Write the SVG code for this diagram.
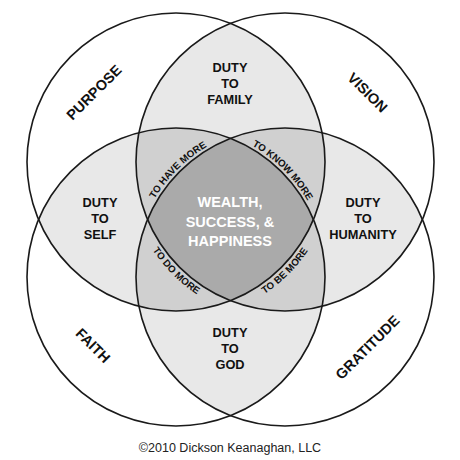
<svg xmlns="http://www.w3.org/2000/svg" width="460" height="460" viewBox="0 0 460 460">
<style>
.ring{fill:none;stroke:#1a1a1a;stroke-width:1.6}
.l2{fill:#e8e8e8}
.l3{fill:#d0d0d0}
.l4{fill:#aaaaaa}
.big{font-family:"Liberation Sans",Arial,sans-serif;font-weight:700;font-size:14.5px;fill:#111;text-anchor:middle}
.duty{font-family:"Liberation Sans",Arial,sans-serif;font-weight:700;font-size:12.8px;fill:#111;text-anchor:middle}
.core{font-family:"Liberation Sans",Arial,sans-serif;font-weight:700;font-size:14.5px;fill:#fff;text-anchor:middle}
.arc{font-family:"Liberation Sans",Arial,sans-serif;font-weight:700;font-size:9.8px;fill:#111;text-anchor:middle}
.copy{font-family:"Liberation Sans",Arial,sans-serif;font-size:12.5px;fill:#222;text-anchor:middle}
</style>
<defs>
<clipPath id="cP"><circle cx="176" cy="162" r="149"/></clipPath>
<clipPath id="cV"><circle cx="285" cy="162" r="149"/></clipPath>
<clipPath id="cF"><circle cx="176" cy="277" r="149"/></clipPath>
<clipPath id="cG"><circle cx="285" cy="277" r="149"/></clipPath>
<path id="pHave" d="M133.6 263.8 A152 152 0 0 1 271.8 125.6"/>
<path id="pKnow" d="M189.2 125.6 A152 152 0 0 1 327.4 263.8"/>
<path id="pDo" d="M126.6 175.9 A159 159 0 0 0 271.1 320.4"/>
<path id="pBe" d="M189.9 320.4 A159 159 0 0 0 334.4 175.9"/>
</defs>
<rect width="460" height="460" fill="#fff"/>
<g id="shading">
<circle class="l2" cx="285" cy="162" r="149" clip-path="url(#cP)"/>
<circle class="l2" cx="176" cy="277" r="149" clip-path="url(#cP)"/>
<circle class="l2" cx="285" cy="277" r="149" clip-path="url(#cP)"/>
<circle class="l2" cx="176" cy="277" r="149" clip-path="url(#cV)"/>
<circle class="l2" cx="285" cy="277" r="149" clip-path="url(#cV)"/>
<circle class="l2" cx="285" cy="277" r="149" clip-path="url(#cF)"/>
<g clip-path="url(#cP)"><circle class="l3" cx="176" cy="277" r="149" clip-path="url(#cV)"/></g>
<g clip-path="url(#cP)"><circle class="l3" cx="285" cy="277" r="149" clip-path="url(#cV)"/></g>
<g clip-path="url(#cP)"><circle class="l3" cx="285" cy="277" r="149" clip-path="url(#cF)"/></g>
<g clip-path="url(#cV)"><circle class="l3" cx="285" cy="277" r="149" clip-path="url(#cF)"/></g>
<g clip-path="url(#cP)"><g clip-path="url(#cV)"><circle class="l4" cx="285" cy="277" r="149" clip-path="url(#cF)"/></g></g>
</g>
<g id="purpose">
<circle class="ring" cx="176" cy="162" r="149"/>
<text class="big" transform="translate(94 92.5) rotate(-45)" y="5">PURPOSE</text>
</g>
<g id="vision">
<circle class="ring" cx="285" cy="162" r="149"/>
<text class="big" transform="translate(367.5 92.5) rotate(45)" y="5">VISION</text>
</g>
<g id="faith">
<circle class="ring" cx="176" cy="277" r="149"/>
<text class="big" transform="translate(93 345.5) rotate(45)" y="5">FAITH</text>
</g>
<g id="gratitude">
<circle class="ring" cx="285" cy="277" r="149"/>
<text class="big" transform="translate(367.5 347.5) rotate(-45)" y="5">GRATITUDE</text>
</g>
<g id="duty-family">
<text class="duty" x="230" y="72">DUTY</text>
<text class="duty" x="230" y="88">TO</text>
<text class="duty" x="230" y="104">FAMILY</text>
</g>
<g id="duty-self">
<text class="duty" x="100" y="207">DUTY</text>
<text class="duty" x="100" y="223">TO</text>
<text class="duty" x="100" y="239">SELF</text>
</g>
<g id="duty-humanity">
<text class="duty" x="363" y="207">DUTY</text>
<text class="duty" x="363" y="223">TO</text>
<text class="duty" x="363" y="239">HUMANITY</text>
</g>
<g id="duty-god">
<text class="duty" x="230" y="337">DUTY</text>
<text class="duty" x="230" y="353">TO</text>
<text class="duty" x="230" y="369">GOD</text>
</g>
<g id="center">
<text class="core" x="230" y="207">WEALTH,</text>
<text class="core" x="230" y="227">SUCCESS, &amp;</text>
<text class="core" x="230" y="246">HAPPINESS</text>
</g>
<g id="to-have-more"><text class="arc"><textPath href="#pHave" startOffset="50%">TO HAVE MORE</textPath></text></g>
<g id="to-know-more"><text class="arc"><textPath href="#pKnow" startOffset="50%">TO KNOW MORE</textPath></text></g>
<g id="to-do-more"><text class="arc"><textPath href="#pDo" startOffset="50%">TO DO MORE</textPath></text></g>
<g id="to-be-more"><text class="arc"><textPath href="#pBe" startOffset="50%">TO BE MORE</textPath></text></g>
<text class="copy" x="230" y="452">©2010 Dickson Keanaghan, LLC</text>
</svg>
